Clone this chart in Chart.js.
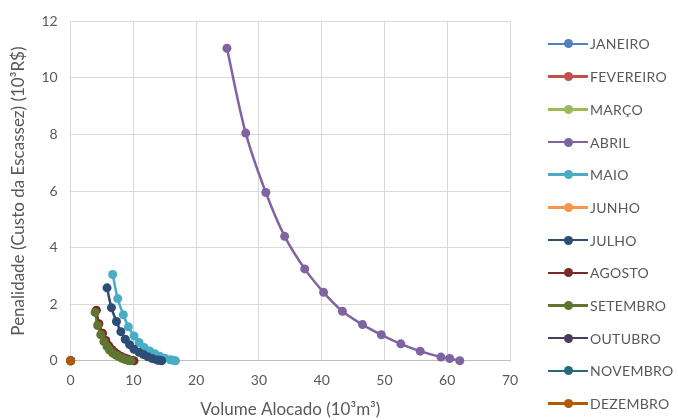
<!DOCTYPE html>
<html>
<head>
<meta charset="utf-8">
<title>Penalidade x Volume Alocado</title>
<script src="https://cdn.jsdelivr.net/npm/chart.js@4/dist/chart.umd.min.js"></script>
<style>
    html, body {
        margin: 0;
        padding: 0;
        background: #ffffff;
    }
    .chart-wrap {
        position: relative;
        width: 678px;
        height: 420px;
    }
    .legend {
        position: absolute;
        left: 548px;
        top: 27.6px;
        margin: 0;
        padding: 0;
        list-style: none;
        font-family: Lato, "Open Sans", sans-serif;
        font-size: 14px;
        letter-spacing: 0.3px;
        color: #595959;
    }
    .legend li {
        height: 32.7px;
        display: flex;
        align-items: center;
        white-space: nowrap;
    }
    .legend .marker {
        position: relative;
        width: 40px;
        height: 2.5px;
        margin-right: 2px;
    }
    .legend .marker::after {
        content: '';
        position: absolute;
        left: 15.5px;
        top: -3.25px;
        width: 9px;
        height: 9px;
        border-radius: 50%;
        background: inherit;
    }
</style>
</head>
<body>
<div class="chart-wrap">
    <canvas id="scarcityChart"></canvas>
    <ul class="legend" id="chartLegend"></ul>
</div>
<script>
// Months and their Excel colours
const months = ['JANEIRO', 'FEVEREIRO', 'MARÇO', 'ABRIL', 'MAIO', 'JUNHO',
    'JULHO', 'AGOSTO', 'SETEMBRO', 'OUTUBRO', 'NOVEMBRO', 'DEZEMBRO'];
const monthColors = ['#4F81BD', '#C0504D', '#9BBB59', '#8064A2', '#4BACC6', '#F79646',
    '#2C4D75', '#772C2A', '#5F7530', '#4D3B62', '#276A7C', '#B65708'];

// Volume alocado (10^3 m3) and penalidade (10^3 R$) per month
const janeiroVolume = [0];
const janeiroPenalty = [0];
const fevereiroVolume = [0];
const fevereiroPenalty = [0];
const marcoVolume = [0];
const marcoPenalty = [0];
const abrilVolume = [24.9, 27.9, 31.1, 34.1, 37.3, 40.3, 43.3, 46.5, 49.5, 52.6, 55.7, 59.0, 60.4, 62.0];
const abrilPenalty = [11.05, 8.05, 5.95, 4.4, 3.25, 2.42, 1.75, 1.28, 0.92, 0.6, 0.34, 0.13, 0.08, 0.0];
const maioVolume = [6.7, 7.5, 8.4, 9.2, 10.1, 10.9, 11.7, 12.6, 13.4, 14.2, 15.0, 15.9, 16.3, 16.7];
const maioPenalty = [3.05, 2.2, 1.63, 1.2, 0.88, 0.65, 0.47, 0.35, 0.25, 0.16, 0.09, 0.035, 0.02, 0.0];
const junhoVolume = [0];
const junhoPenalty = [0];
const julhoVolume = [5.8, 6.5, 7.3, 8.0, 8.7, 9.4, 10.1, 10.9, 11.6, 12.3, 13.0, 13.8, 14.1, 14.5];
const julhoPenalty = [2.58, 1.88, 1.39, 1.03, 0.76, 0.57, 0.41, 0.3, 0.22, 0.14, 0.08, 0.03, 0.02, 0.0];
const agostoVolume = [4.1, 4.5, 5.1, 5.6, 6.1, 6.6, 7.1, 7.6, 8.1, 8.6, 9.1, 9.6, 9.8, 10.1];
const agostoPenalty = [1.79, 1.31, 0.97, 0.72, 0.53, 0.39, 0.29, 0.21, 0.15, 0.1, 0.06, 0.02, 0.01, 0.0];
const setembroVolume = [3.9, 4.3, 4.8, 5.3, 5.8, 6.2, 6.7, 7.2, 7.7, 8.2, 8.6, 9.1, 9.4, 9.6];
const setembroPenalty = [1.71, 1.25, 0.92, 0.68, 0.5, 0.38, 0.27, 0.2, 0.14, 0.09, 0.05, 0.02, 0.01, 0.0];
const outubroVolume = [0];
const outubroPenalty = [0];
const novembroVolume = [0];
const novembroPenalty = [0];
const dezembroVolume = [0];
const dezembroPenalty = [0];

// Axis ticks
const xTicks = [0, 10, 20, 30, 40, 50, 60, 70];
const yTicks = [0, 2, 4, 6, 8, 10, 12];

const volumes = [janeiroVolume, fevereiroVolume, marcoVolume, abrilVolume, maioVolume, junhoVolume,
    julhoVolume, agostoVolume, setembroVolume, outubroVolume, novembroVolume, dezembroVolume];
const penalties = [janeiroPenalty, fevereiroPenalty, marcoPenalty, abrilPenalty, maioPenalty, junhoPenalty,
    julhoPenalty, agostoPenalty, setembroPenalty, outubroPenalty, novembroPenalty, dezembroPenalty];

const FONT = 'Lato, "Open Sans", sans-serif';
const TEXT_COLOR = '#595959';

function buildDatasets() {
    return months.map((name, i) => ({
        label: name,
        data: volumes[i].map((v, j) => ({ x: v, y: penalties[i][j] })),
        borderColor: monthColors[i],
        backgroundColor: monthColors[i],
        showLine: true,
        tension: 0.35,
        borderWidth: 2.5,
        pointRadius: 4.5,
        pointHoverRadius: 4.5,
        pointBorderWidth: 0,
        clip: false,
        // later months drawn on top, like Excel
        order: months.length - i
    }));
}

// Excel-like legend on the right (line with a dot)
function buildLegend() {
    const list = document.getElementById('chartLegend');
    list.innerHTML = months.map((name, i) => `
        <li><span class="marker" style="background:${monthColors[i]}"></span>${name}</li>
    `).join('');
}

document.addEventListener('DOMContentLoaded', function() {
    buildLegend();

    const ctx = document.getElementById('scarcityChart').getContext('2d');
    window.scarcityChart = new Chart(ctx, {
        type: 'scatter',
        data: { datasets: buildDatasets() },
        options: {
            responsive: true,
            maintainAspectRatio: false,
            animation: false,
            layout: {
                padding: { left: 0, right: 168, top: 11, bottom: 0 }
            },
            plugins: {
                tooltip: { enabled: false },
                legend: { display: false }
            },
            scales: {
                x: {
                    type: 'linear',
                    min: 0,
                    max: 70,
                    afterBuildTicks: axis => { axis.ticks = xTicks.map(v => ({ value: v })); },
                    grid: { color: '#d9d9d9', drawTicks: false },
                    border: { color: '#bfbfbf' },
                    ticks: {
                        color: TEXT_COLOR,
                        padding: 11,
                        font: { family: FONT, size: 14 }
                    },
                    title: {
                        display: true,
                        text: 'Volume Alocado (10³m³)',
                        color: TEXT_COLOR,
                        font: { family: FONT, size: 17 },
                        padding: { top: 0, bottom: 0 }
                    }
                },
                y: {
                    type: 'linear',
                    min: 0,
                    max: 12,
                    afterBuildTicks: axis => { axis.ticks = yTicks.map(v => ({ value: v })); },
                    grid: { color: '#d9d9d9', drawTicks: false },
                    border: { display: false },
                    ticks: {
                        color: TEXT_COLOR,
                        padding: 13,
                        font: { family: FONT, size: 14 }
                    },
                    title: {
                        display: true,
                        text: 'Penalidade (Custo da Escassez) (10³R$)',
                        color: TEXT_COLOR,
                        font: { family: FONT, size: 17 },
                        padding: { top: 8, bottom: 0 }
                    }
                }
            }
        }
    });
});
</script>
</body>
</html>
